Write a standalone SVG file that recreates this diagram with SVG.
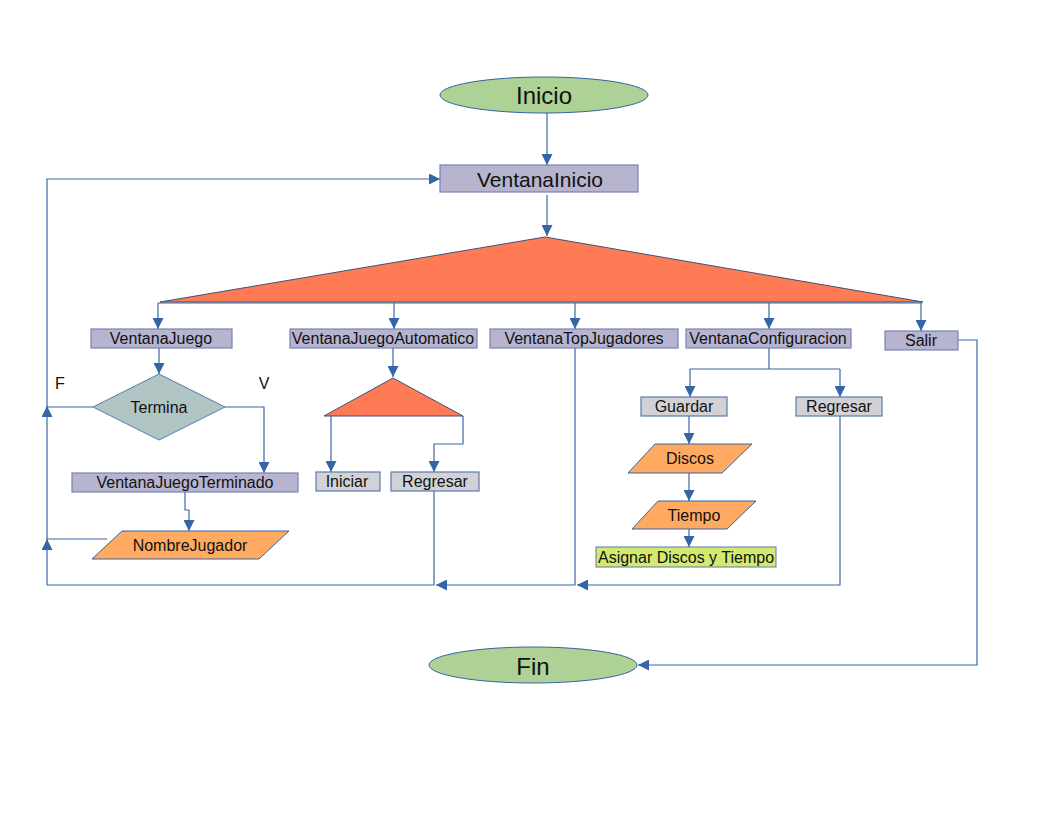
<svg xmlns="http://www.w3.org/2000/svg" width="1056" height="816" viewBox="0 0 1056 816">
  <style>
    text { font-family: "Liberation Sans", Arial, sans-serif; font-size: 16px; fill: #111; text-anchor: middle; dominant-baseline: central; }
    .big { font-size: 24px; }
    .mid { font-size: 21px; }
    .term { fill: #aed195; stroke: #3465a4; stroke-width: 1; }
    .win { fill: #b6b4cf; stroke: #7483b8; stroke-width: 1.2; }
    .opt { fill: #d2d2d6; stroke: #5b79b0; stroke-width: 1.2; }
    .split { fill: #ff7b55; stroke: #3b5277; stroke-width: 1; }
    .io { fill: #ffaa60; stroke: #3465a4; stroke-width: 1; }
    .dec { fill: #b0c4c4; stroke: #5b79b0; stroke-width: 1; }
    .act { fill: #d3ea6e; stroke: #5b79b0; stroke-width: 1; }
    #connectors path { fill: none; stroke: #3d67a8; stroke-width: 1.2; }
    #connectors path.arr { marker-end: url(#head); }
  </style>
  <defs>
    <marker id="head" markerUnits="userSpaceOnUse" markerWidth="11" markerHeight="11" refX="11" refY="5.5" orient="auto">
      <path d="M0,0 L11,5.5 L0,11 z" fill="#3465a4"/>
    </marker>
  </defs>

  <rect width="1056" height="816" fill="#ffffff"/>

  <!-- connectors -->
  <g id="connectors">
    <path class="arr" d="M547,113 V165"/>
    <path class="arr" d="M547,195 V236"/>
    <path d="M158,303 H922"/>
    <path class="arr" d="M158,303 V329"/>
    <path class="arr" d="M394,303 V329"/>
    <path class="arr" d="M575,303 V329"/>
    <path class="arr" d="M769,303 V329"/>
    <path class="arr" d="M921,303 V331"/>
    <path class="arr" d="M159,348 V374"/>
    <!-- F branch and return loop -->
    <path d="M93,407 H47"/>
    <path d="M107,539 H47"/>
    <path class="arr" d="M47,585 V539"/>
    <path class="arr" d="M47,540 V406"/>
    <path class="arr" d="M47,407 V179 H440"/>
    <!-- V branch -->
    <path class="arr" d="M225,407 H264 V473"/>
    <path class="arr" d="M185,492 V510 H189 V531"/>
    <!-- automatic game -->
    <path class="arr" d="M393,348 V377"/>
    <path class="arr" d="M331,416 V472"/>
    <path class="arr" d="M463,416 V444 H434 V472"/>
    <path d="M434,491 V585 H47"/>
    <path class="arr" d="M575,348 V585 H436"/>
    <!-- configuration -->
    <path d="M769,348 V369"/>
    <path d="M690,369 H840"/>
    <path class="arr" d="M690,369 V397"/>
    <path class="arr" d="M840,369 V397"/>
    <path class="arr" d="M689,416 V444"/>
    <path class="arr" d="M689,473 V501"/>
    <path class="arr" d="M689,529 V547"/>
    <path class="arr" d="M840,416 V585 H577"/>
    <!-- exit -->
    <path class="arr" d="M958,340 H977 V665 H638"/>
  </g>

  <g id="inicio">
    <ellipse class="term" cx="544" cy="95" rx="104" ry="18"/>
    <text class="big" x="544" y="95">Inicio</text>
  </g>
  <g id="ventanaInicio">
    <rect class="win" x="440" y="165" width="198" height="27"/>
    <text class="mid" x="540" y="179">VentanaInicio</text>
  </g>
  <g id="menu">
    <polygon class="split" points="545,237 923,302 160,302"/>
  </g>

  <g id="ventanaJuego">
    <rect class="win" x="91" y="329" width="141" height="19"/>
    <text x="161" y="338.5">VentanaJuego</text>
  </g>
  <g id="ventanaJuegoAutomatico">
    <rect class="win" x="290" y="329" width="187" height="19"/>
    <text x="383" y="338.5">VentanaJuegoAutomatico</text>
  </g>
  <g id="ventanaTopJugadores">
    <rect class="win" x="490" y="329" width="188" height="19"/>
    <text x="584" y="338.5">VentanaTopJugadores</text>
  </g>
  <g id="ventanaConfiguracion">
    <rect class="win" x="686" y="329" width="165" height="19"/>
    <text x="768" y="338.5">VentanaConfiguracion</text>
  </g>
  <g id="salir">
    <rect class="win" x="885" y="331" width="73" height="19"/>
    <text x="921" y="340.5">Salir</text>
  </g>

  <g id="termina">
    <polygon class="dec" points="159,374 225,407 159,440 93,407"/>
    <text x="159" y="407">Termina</text>
  </g>
  <g id="labelF"><text x="60" y="383">F</text></g>
  <g id="labelV"><text x="264" y="383">V</text></g>

  <g id="ventanaJuegoTerminado">
    <rect class="win" x="72" y="473" width="226" height="19"/>
    <text x="185" y="482.5">VentanaJuegoTerminado</text>
  </g>
  <g id="nombreJugador">
    <polygon class="io" points="122,531 289,531 259,559 92,559"/>
    <text x="190" y="545.5">NombreJugador</text>
  </g>

  <g id="auto">
    <polygon class="split" points="393,378 463,416 324,416"/>
  </g>
  <g id="iniciar">
    <rect class="opt" x="316" y="472" width="64" height="19"/>
    <text x="347" y="481.5">Iniciar</text>
  </g>
  <g id="regresarAuto">
    <rect class="opt" x="391" y="472" width="88" height="19"/>
    <text x="435" y="481.5">Regresar</text>
  </g>

  <g id="guardar">
    <rect class="opt" x="641" y="397" width="86" height="19"/>
    <text x="684" y="406.5">Guardar</text>
  </g>
  <g id="regresarConfig">
    <rect class="opt" x="796" y="397" width="86" height="19"/>
    <text x="839" y="406.5">Regresar</text>
  </g>
  <g id="discos">
    <polygon class="io" points="655,444 752,444 722,473 628,473"/>
    <text x="690" y="458.5">Discos</text>
  </g>
  <g id="tiempo">
    <polygon class="io" points="658,501 756,501 727,529 632,529"/>
    <text x="694" y="515">Tiempo</text>
  </g>
  <g id="asignar">
    <rect class="act" x="596" y="547" width="180" height="20"/>
    <text x="686" y="557">Asignar Discos y Tiempo</text>
  </g>

  <g id="fin">
    <ellipse class="term" cx="533" cy="665" rx="104" ry="18"/>
    <text class="big" x="533" y="666">Fin</text>
  </g>
</svg>
